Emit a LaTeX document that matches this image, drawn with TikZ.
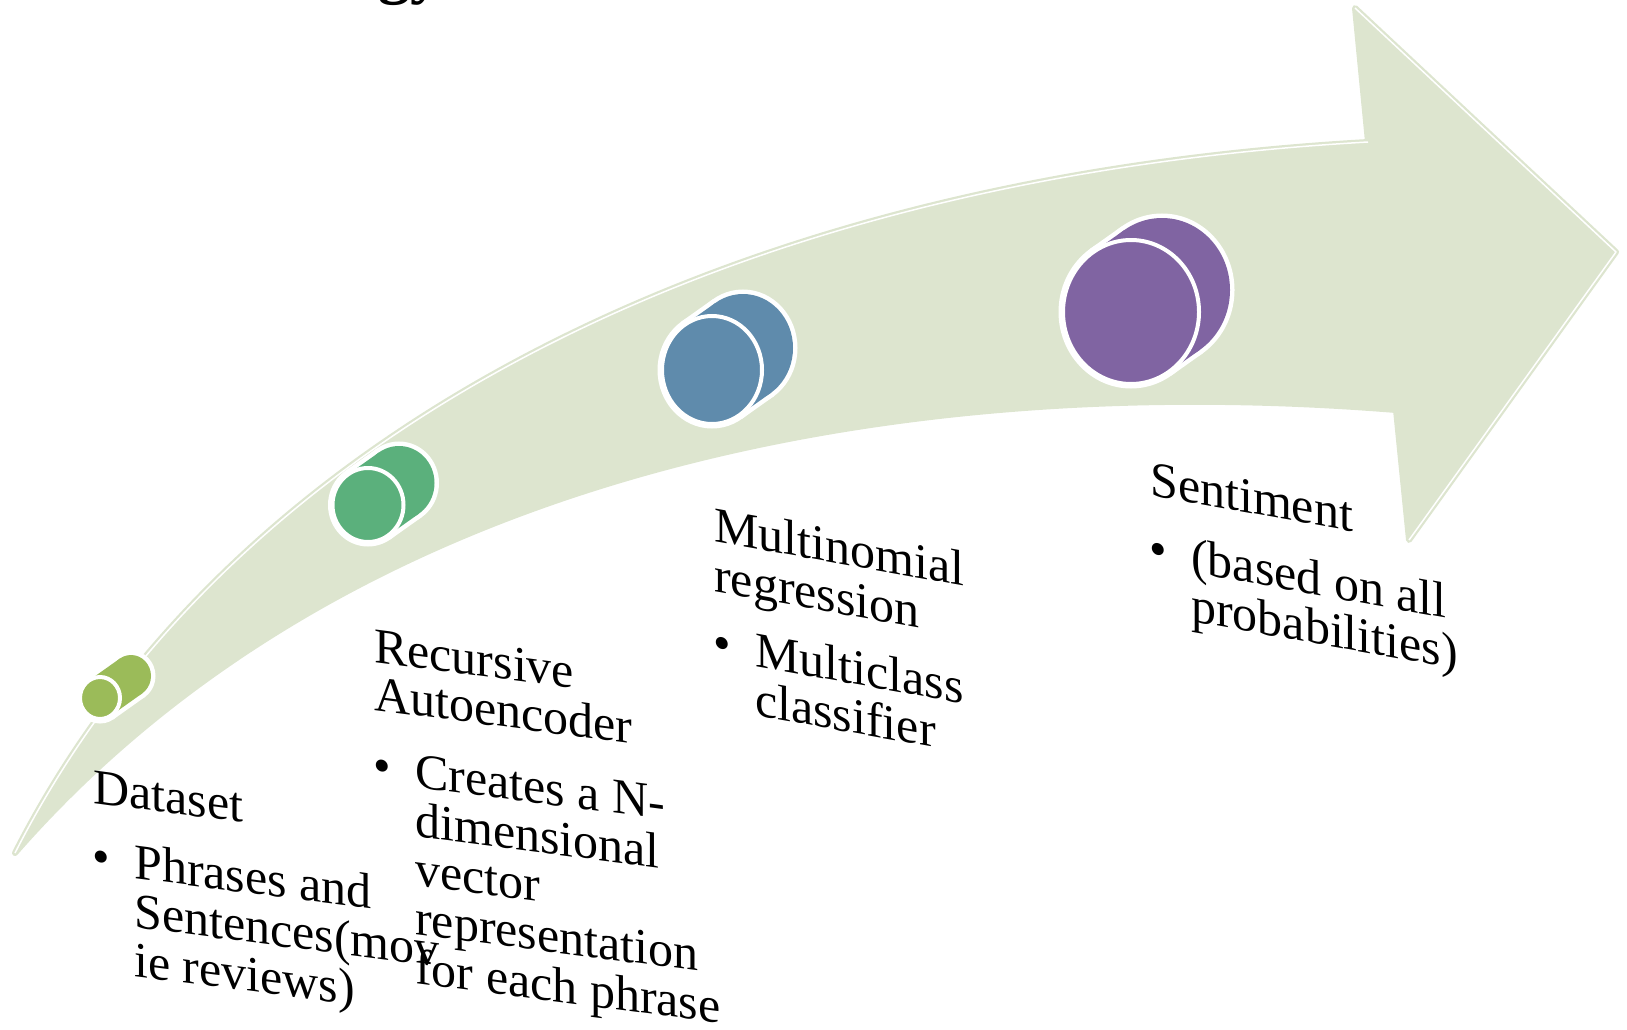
\documentclass[tikz,border=0pt]{standalone}
\usepackage{fontspec}
\setmainfont{Liberation Serif}
\usetikzlibrary{calc}

\definecolor{bandfill}{RGB}{221,229,207}
\definecolor{drumA}{RGB}{155,187,89}
\definecolor{drumB}{RGB}{91,176,124}
\definecolor{drumC}{RGB}{95,139,172}
\definecolor{drumD}{RGB}{128,100,162}

% A short drum seen from the front: back face offset up-right, white halo, white rim on the front face.
% #1,#2 centre of front face, #3,#4 radii, #5 colour
\newcommand{\drum}[5]{%
  \pgfmathsetmacro\drumx{0.561*#3}%
  \pgfmathsetmacro\drumy{0.828*#4}%
  \begin{scope}[shift={(#1,#2)}]
    \draw[white, line width=9pt] (31,-22) ellipse[x radius=#3, y radius=#4];
    \draw[white, line width=9pt, line join=round]
      (\drumx,\drumy) -- ++(31,-22) -- (31-\drumx,-22-\drumy) -- (-\drumx,-\drumy) -- cycle;
    \draw[white, line width=9pt] (0,0) ellipse[x radius=#3, y radius=#4];
    \fill[#5] (31,-22) ellipse[x radius=#3, y radius=#4];
    \fill[#5] (\drumx,\drumy) -- ++(31,-22) -- (31-\drumx,-22-\drumy) -- (-\drumx,-\drumy) -- cycle;
    \draw[white, line width=4pt, fill=#5] (0,0) ellipse[x radius=#3, y radius=#4];
  \end{scope}}

\begin{document}
\begin{tikzpicture}[x=1pt, y=-1pt,
    txt/.style={anchor=base west, inner sep=0pt, font=\fontsize{50}{50}\selectfont},
    titletxt/.style={anchor=base west, inner sep=0pt, font=\fontsize{64}{64}\selectfont\bfseries}]
  \useasboundingbox (0,0) rectangle (1627,1030);
  \clip (0,0) rectangle (1627,1030);

  % lower part of the slide title, cut by the top edge
  \node[titletxt] (title) at (378,-8) {gy};

  % the curved band ending in an arrow head
  \coordinate (tail) at (15,853);
  \coordinate (notchtop) at (1368,142);
  \coordinate (barbtop) at (1355,8);
  \coordinate (tip) at (1616,252);
  \coordinate (barbbot) at (1409,540);
  \coordinate (notchbot) at (1396,410);
  \def\bandpath{(tail) .. controls (220,450) and (700,180) .. (notchtop)
    -- (barbtop) -- (tip) -- (barbbot) -- (notchbot)
    .. controls (900,370) and (350,470) .. (tail) -- cycle}
  \draw[bandfill, line width=6pt, line join=round] \bandpath;
  \fill[bandfill] \bandpath;
  \draw[white, line width=1.5pt, line join=round]
    (tail) .. controls (220,450) and (700,180) .. (notchtop)
    (barbtop) -- (tip) -- (barbbot);

  % the four drums along the band
  \drum{100}{698}{20}{21}{drumA}
  \drum{368}{505}{35.5}{37}{drumB}
  \drum{712}{370}{50}{54}{drumC}
  \drum{1131}{312}{68}{72}{drumD}

  % step 1
  \begin{scope}[shift={(93,803)}, yslant=-0.13, transform shape]
    \node[txt] (dataset) at (0,0) {Dataset};
    \node[txt] (dataset-dot) at (-1,70) {•};
    \node[txt] (dataset-1) at (41,70) {Phrases and};
    \node[txt] (dataset-2) at (41,119) {Sentences(mov};
    \node[txt] (dataset-3) at (41,168) {ie reviews)};
  \end{scope}

  % step 2
  \begin{scope}[shift={(374,662)}, yslant=-0.13, transform shape]
    \node[txt] (rae) at (0,0) {Recursive};
    \node[txt] (rae-h2) at (0,48) {Autoencoder};
    \node[txt] (rae-dot) at (-1,120) {•};
    \node[txt] (rae-1) at (41,120) {Creates a N-};
    \node[txt] (rae-2) at (41,169) {dimensional};
    \node[txt] (rae-3) at (41,218) {vector};
    \node[txt] (rae-4) at (41,267) {representation};
    \node[txt] (rae-5) at (41,316) {for each phrase};
  \end{scope}

  % step 3
  \begin{scope}[shift={(714,541)}, yslant=-0.18, transform shape]
    \node[txt] (mnr) at (0,0) {Multinomial};
    \node[txt] (mnr-h2) at (0,50) {regression};
    \node[txt] (mnr-dot) at (-1,118) {•};
    \node[txt] (mnr-1) at (41,118) {Multiclass};
    \node[txt] (mnr-2) at (41,167) {classifier};
  \end{scope}

  % step 4
  \begin{scope}[shift={(1150,495)}, yslant=-0.18, transform shape]
    \node[txt] (sent) at (0,0) {Sentiment};
    \node[txt] (sent-dot) at (-1,70) {•};
    \node[txt] (sent-1) at (41,70) {(based on all};
    \node[txt] (sent-2) at (41,119) {probabilities)};
  \end{scope}
\end{tikzpicture}
\end{document}
